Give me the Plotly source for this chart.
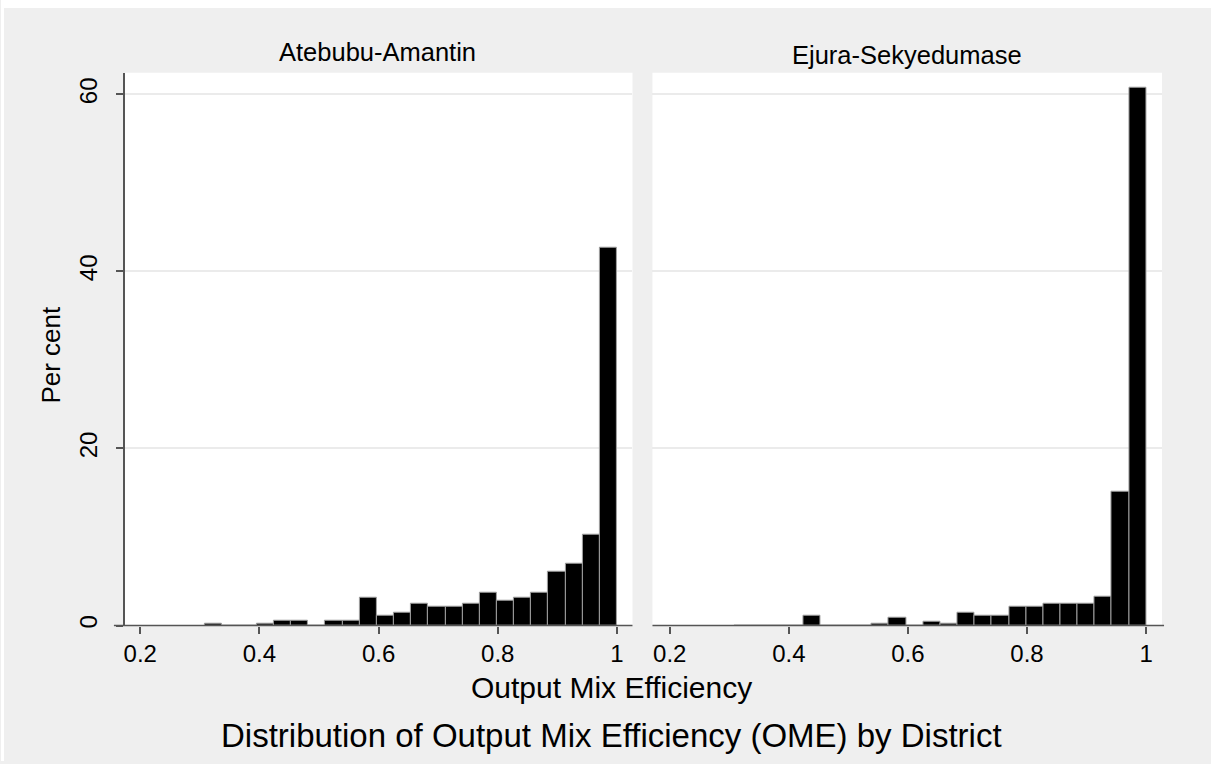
import plotly.graph_objects as go

# Histogram bins (shared by both districts): bin centres and width
bin_centers = [0.3234, 0.3522, 0.3810, 0.4098, 0.4386, 0.4674, 0.4962, 0.5250,
               0.5537, 0.5825, 0.6113, 0.6401, 0.6689, 0.6977, 0.7265, 0.7553,
               0.7841, 0.8129, 0.8417, 0.8705, 0.8993, 0.9281, 0.9569, 0.9856]
bin_width = 0.0288

# Per cent in each bin
atebubu = [0.25, 0, 0, 0.25, 0.6, 0.6, 0, 0.6, 0.6, 3.1, 1.1, 1.45,
           2.45, 2.1, 2.1, 2.45, 3.7, 2.8, 3.1, 3.7, 6.1, 7.0, 10.3, 42.7]
ejura = [0, 0, 0, 0, 1.15, 0, 0, 0, 0.15, 0.85, 0, 0.45,
         0.2, 1.45, 1.15, 1.15, 2.15, 2.15, 2.45, 2.45, 2.45, 3.2, 15.1, 60.7]

panel_titles = ["Atebubu-Amantin", "Ejura-Sekyedumase"]
x_ticks = [0.2, 0.4, 0.6, 0.8, 1.0]
x_ticktext = ["0.2", "0.4", "0.6", "0.8", "1"]
y_ticks = [0, 20, 40, 60]

W, H = 1211, 764
FONT = "Liberation Sans, Arial, Helvetica, sans-serif"
BG = "#efefef"
GRID = "#ebebeb"
AXC = "#555555"

def px(x):
    return x / W

def py(y):
    return 1 - y / H

fig = go.Figure()
for vals, xa, ya in [(atebubu, "x", "y"), (ejura, "x2", "y2")]:
    fig.add_trace(go.Bar(
        x=bin_centers, y=vals, width=bin_width,
        marker=dict(color="black", line=dict(color="#a0a0a0", width=1)),
        xaxis=xa, yaxis=ya, showlegend=False, hoverinfo="x+y"))

ydom = [py(628), py(73)]
common_x = dict(tickmode="array", tickvals=x_ticks, ticktext=x_ticktext,
                ticks="outside", ticklen=7, tickwidth=1.5, tickcolor=AXC,
                showgrid=False, zeroline=False, showline=False,
                tickfont=dict(family=FONT, size=24, color="black"))
fig.update_layout(
    width=W, height=H, margin=dict(l=0, r=0, t=0, b=0),
    paper_bgcolor=BG, plot_bgcolor="white", bargap=0,
    font=dict(family=FONT, color="black"),
    xaxis=dict(domain=[px(124), px(632)], range=[0.1743, 1.026], anchor="y", **common_x),
    xaxis2=dict(domain=[px(652), px(1162)], range=[0.171, 1.0267], anchor="y2", **common_x),
    yaxis=dict(domain=ydom, range=[0, 62.45], tickvals=y_ticks, ticks="outside",
               ticklen=7, tickwidth=1.5, tickcolor=AXC, tickangle=-90,
               ticklabelstandoff=10,
               showgrid=True, gridcolor=GRID, gridwidth=1.5, zeroline=False,
               showline=True, linecolor=AXC, linewidth=1.5, anchor="x",
               tickfont=dict(family=FONT, size=24, color="black")),
    yaxis2=dict(domain=ydom, range=[0, 62.45], tickvals=y_ticks, showticklabels=False,
                ticks="", showgrid=True, gridcolor=GRID, gridwidth=1.5,
                zeroline=False, showline=False, anchor="x2"),
)

shapes = [
    # white outer margins of the original image
    dict(type="rect", xref="paper", yref="paper", x0=0, x1=1, y0=py(8), y1=1,
         fillcolor="white", line=dict(width=0), layer="above"),
    dict(type="rect", xref="paper", yref="paper", x0=0, x1=px(3), y0=0, y1=1,
         fillcolor="white", line=dict(width=0), layer="above"),
    # x axis lines
    dict(type="line", xref="paper", yref="paper", x0=px(113), x1=px(632),
         y0=py(628), y1=py(628), line=dict(color=AXC, width=1.5)),
    dict(type="line", xref="paper", yref="paper", x0=px(652), x1=px(1164),
         y0=py(628), y1=py(628), line=dict(color=AXC, width=1.5)),
]
fig.update_layout(shapes=shapes)

ann = [
    dict(text=panel_titles[0], x=px(377), y=py(52), size=25.5),
    dict(text=panel_titles[1], x=px(907), y=py(55), size=25.5),
    dict(text="Output Mix Efficiency", x=px(611), y=py(690), size=30),
    dict(text="Distribution of Output Mix Efficiency (OME) by District", x=px(611), y=py(738), size=33),
]
annotations = [dict(text=a["text"], x=a["x"], y=a["y"], xref="paper", yref="paper",
                    showarrow=False, xanchor="center", yanchor="middle",
                    font=dict(family=FONT, size=a["size"], color="black")) for a in ann]
annotations.append(dict(text="Per cent", x=px(50), y=py(356), xref="paper", yref="paper",
                        showarrow=False, textangle=-90, xanchor="center", yanchor="middle",
                        font=dict(family=FONT, size=26, color="black")))
fig.update_layout(annotations=annotations)

fig.write_html("out.html")
